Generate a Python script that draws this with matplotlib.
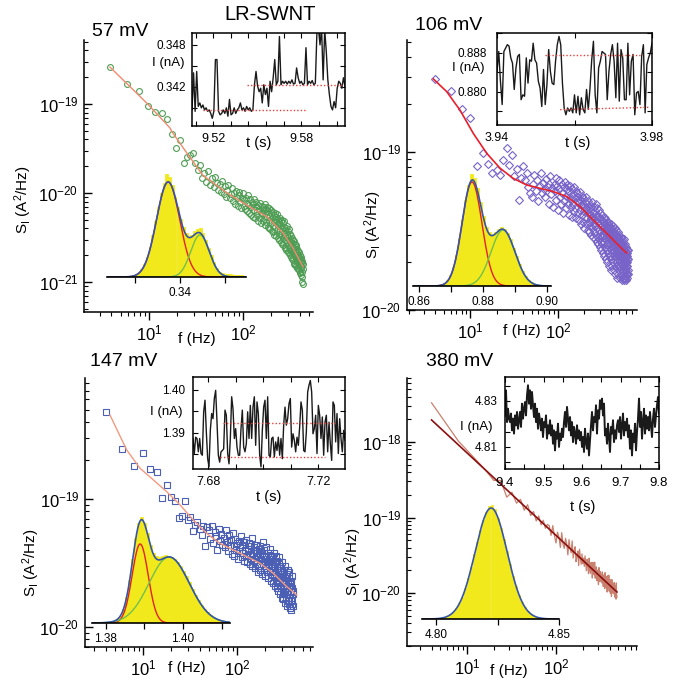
import numpy as np
import matplotlib
matplotlib.use('Agg')
import matplotlib.pyplot as plt
from matplotlib.ticker import LogLocator, NullFormatter

plt.rcParams['font.family'] = ['Liberation Sans', 'DejaVu Sans']
plt.rcParams['mathtext.fontset'] = 'custom'
plt.rcParams['mathtext.rm'] = 'Liberation Sans'
plt.rcParams['mathtext.it'] = 'Liberation Sans:italic'
plt.rcParams['mathtext.bf'] = 'Liberation Sans:bold'
plt.rcParams['axes.linewidth'] = 1.1

# ---------------- noise spectra (S in units given per panel) ----------------
# 57 mV, bins of 1.95 Hz starting at bin 2, S in 1e-21 A^2/Hz
df1 = 1.95
S1 = [263, 168, 141, 95, 82, 79, 68, 46, 32, 39, 22, 25.6, 26.7,
      28.4, 21.5, 18.2, 20.5, 14.6, 16.8, 13.2, 17.5, 12.4, 14.9,
      11.6, 15.2, 13.1, 10.8, 12.5, 10.2, 13.6, 9.8, 11.9, 9.1,
      10.8, 12.2, 8.9, 9.7, 11.5, 8.2, 9.9, 7.6, 10.6, 8.8,
      7.2, 9.6, 10.3, 7.9, 6.8, 8.7, 9.9, 7.1, 8.3, 6.6,
      8.9, 6.3, 7.8, 9.4, 6.0, 7.3, 8.5, 5.7, 7.0, 8.0,
      5.4, 7.6, 6.5, 8.6, 5.2, 6.9, 7.9, 5.6, 6.2, 7.4,
      4.9, 6.6, 7.8, 5.3, 6.0, 4.6, 7.1, 5.8, 6.4, 4.8,
      6.9, 5.1, 7.5, 4.4, 5.9, 6.6, 4.7, 5.4, 7.0, 4.2,
      6.3, 5.0, 4.0, 6.8, 5.5, 3.9, 5.9, 4.6, 6.5, 3.7,
      5.2, 6.1, 4.3, 3.6, 5.7, 4.8, 3.4, 6.0, 4.1, 5.0,
      3.3, 5.4, 4.5, 3.8, 5.8, 3.1, 4.4, 5.1, 3.5, 4.7,
      3.0, 5.3, 3.7, 4.3, 2.8, 4.9, 3.4, 4.0, 5.0, 2.7,
      3.9, 4.6, 3.1, 2.6, 4.2, 3.5, 4.8, 2.5, 3.3, 3.8,
      2.4, 4.0, 3.0, 3.6, 2.3, 4.3, 2.8, 3.4, 2.2, 3.7,
      2.6, 3.2, 2.1, 3.9, 2.5, 3.0, 2.0, 3.5, 2.4, 2.9,
      1.9, 3.3, 2.3, 2.8, 1.8, 3.1, 2.2, 2.6, 1.75, 3.0,
      2.1, 2.5, 1.65, 2.9, 2.0, 2.4, 1.6, 2.7, 1.95, 2.3,
      1.55, 2.6, 1.85, 2.2, 1.5, 2.5, 1.8, 2.1, 1.45, 2.35,
      1.7, 2.0, 1.4, 2.25, 1.65, 1.9, 1.35, 2.15, 1.6, 1.85,
      1.3, 2.0, 1.55, 1.75, 1.25, 1.9, 1.5, 1.7, 1.2, 1.8,
      1.45, 1.0, 1.65, 1.3, 1.15, 1.7, 1.4, 0.95, 1.6]
fit1_f = [3.85, 9.53, 16.7, 18.0, 25.4, 37.5, 67.6, 110, 180, 267, 340, 435]
fit1_S = [260, 102, 54, 47, 28, 15.8, 10, 7.3, 5.4, 3.55, 2.41, 1.48]

# 106 mV, bins of 2 Hz, S in 1e-21
df2 = 2.0
S2 = [290, 245, 186, 165, 81, 99, 84, 74, 77, 72, 89, 106, 83, 96, 70, 78, 50, 68, 81, 66, 74, 60, 55, 52,
      63, 71, 57, 66, 49, 61, 74, 55, 64, 58,
      52, 67, 60, 47, 63, 70, 54, 59, 45, 62,
      57, 68, 50, 61, 43, 58, 66, 52, 47, 63,
      55, 41, 60, 49, 65, 53, 44, 58, 62, 47,
      56, 40, 52, 61, 45, 50, 58, 39, 54, 47,
      60, 42, 51, 44, 57, 38, 49, 55, 41, 52,
      37, 48, 56, 43, 50, 35, 46, 53, 40, 47,
      36, 51, 42, 45, 33, 48, 39, 44, 52, 35,
      43, 38, 47, 32, 41, 49, 36, 44, 31, 40,
      46, 34, 38, 30, 43, 37, 48, 33, 39, 29,
      41, 35, 45, 31, 38, 28, 42, 34, 47, 30,
      37, 27, 40, 33, 44, 29, 36, 26, 39, 32,
      43, 28, 35, 25, 38, 31, 41, 27, 34, 30,
      24, 37, 29, 40, 26, 33, 23, 36, 30, 39,
      27, 32, 22, 35, 28, 38, 25, 31, 21, 34,
      29, 37, 24, 33, 26, 30, 20, 35, 27, 32,
      23, 36, 28, 31, 19, 34, 25, 30, 22, 33,
      26, 29, 18, 32, 24, 35, 21, 28, 31, 23,
      27, 19, 33, 25, 30, 20, 29, 34, 22, 26,
      31, 18, 28, 24, 33, 21, 27, 17, 30, 25,
      22, 29, 32, 19, 26, 23, 28, 16, 30, 24,
      20, 27, 31, 22, 25, 17, 29, 23, 26, 19,
      28, 21, 24, 30, 18, 26, 22, 16, 27, 23,
      19, 25, 29, 20, 24, 17, 27, 22, 15.5, 26,
      21, 18, 28, 23, 25, 16, 24, 20, 27, 19,
      22, 26, 17, 24, 21, 15.5, 25, 19, 23, 28,
      18, 22, 20, 26, 16, 24, 21, 17, 23, 19,
      25, 20, 15.5, 22, 18, 24, 21, 17, 23, 19,
      16, 22, 20, 18, 24, 17, 21]
fit2_f = [3.83, 5.43, 7.69, 10.9, 15.5, 21.9, 31.0, 44.1, 62.4, 88.5, 126, 178, 251, 357, 507, 603]
fit2_S = [290, 241, 184, 131, 98, 79, 68, 61.8, 58.9, 56.1, 52.2, 45.1, 37.2, 30.6, 25.1, 22.9]

# 147 mV, bins of 2 Hz, S in 1e-21
df3 = 2.0
S3 = [481, 245, 182, 230, 171, 162, 101, 128, 104, 97, 71, 73, 97, 68, 72, 56, 63, 66, 58, 52, 61, 43, 60, 57,
      49, 62, 45, 55, 51, 40, 58, 47, 53, 44,
      50, 42, 57, 46, 39, 52, 44, 48, 37, 54,
      43, 36, 49, 40, 45, 34, 47, 39, 42, 51,
      35, 44, 38, 33, 46, 40, 36, 48, 32, 41,
      39, 45, 31, 37, 43, 34, 50, 30, 38, 42,
      33, 40, 29, 36, 44, 31, 38, 27, 35, 41,
      30, 37, 43, 28, 34, 39, 26, 33, 46, 31,
      36, 28, 40, 32, 25, 35, 42, 29, 33, 27,
      38, 31, 24, 34, 30, 41, 27, 33, 23, 36,
      29, 35, 26, 31, 22, 34, 28, 38, 25, 30,
      21, 32, 27, 24, 36, 23, 29, 20, 33, 26,
      22, 28, 19, 31, 25, 35, 21, 27, 18, 30,
      24, 20, 29, 17, 26, 22, 32, 19, 25, 16.5,
      23, 28, 18, 21, 27, 15.5, 24, 19, 30, 20,
      17, 25, 22, 14.5, 26, 18, 21, 28, 16, 23,
      19, 15, 24, 20, 17, 27, 14, 22, 18, 21,
      16, 23, 19, 13.5, 21, 17, 25, 15, 20, 18, 14.5, 19]
fit3_f = [4.46, 6.71, 9.29, 12.9, 17.9, 24.8, 34.3, 47.5, 65.9, 91.4, 127, 176, 243, 338, 432]
fit3_S = [453, 242, 174, 141, 114, 90, 68.5, 54, 45, 40, 35.5, 31.5, 26.3, 20.7, 17.8]

# 380 mV, bins of 4 Hz starting at bin 1, S in 1e-20
df4 = 4.0
S4 = [331, 103, 62, 43, 31, 31, 18.6, 21.6, 15.5, 17.4,
      12.5, 14.8, 10.6, 12.0, 9.0, 10.5, 8.0, 9.2, 7.2, 8.1,
      7.8, 5.8, 7.8, 5.8, 4.6, 6.4, 5.5, 4.0, 6.3, 4.4,
      3.9, 5.3, 4.5, 3.2, 5.1, 3.9, 3.4, 4.9, 2.9, 3.7,
      4.1, 2.6, 3.0, 3.6, 2.3, 3.8, 2.9, 2.4, 3.3, 2.45,
      2.9, 2.25, 3.1, 2.4, 1.97, 2.8, 2.4, 1.8, 2.9, 2.05,
      1.83, 2.54, 2.2, 1.58, 2.55, 1.97, 1.74, 2.56, 1.57, 2.03,
      2.22, 1.45, 1.69, 2.02, 1.29, 2.17, 1.69, 1.42, 1.92, 1.46,
      1.76, 1.36, 1.9, 1.46, 1.22, 1.73, 1.51, 1.14, 1.86, 1.32,
      1.18, 1.65, 1.45, 1.03, 1.69, 1.3, 1.16, 1.72, 1.06, 1.37,
      1.51, 0.99, 1.17, 1.39, 0.9, 1.51, 1.19, 1.0, 1.36, 1.04,
      1.25, 0.97, 1.37, 1.05, 0.88, 1.25, 1.1, 0.83, 1.36, 0.96, 0.88]
fit4_amp, fit4_alpha = 8.93e-18, 1.094
fit4_f = [4.0, 484.0]

# ---------------- current histograms ----------------
hist1 = [0.5, 0.5, 0.5, 0.6, 0.6, 0.7, 0.8, 1.0, 1.2, 1.6, 2.8, 4.5, 8, 13, 20, 30, 42, 56, 70, 84,
         94, 103, 100, 92, 80, 70, 58, 50, 44, 41, 42, 46, 48, 49, 44, 37, 29, 22, 15, 9,
         5.5, 4, 3.5, 3, 3, 2.5, 2.5, 2, 2, 1.5]
gauss1 = [(0.33867, 0.00128, 95), (0.3422, 0.00103, 42)]
hist2 = [0, 0, 0, 0, 0, 0.3, 0.3, 0.4, 0.8, 1.5, 3, 6, 11, 19, 31, 48, 67, 86, 101, 112,
         108, 98, 84, 70, 59, 54, 52, 54, 57, 59, 57, 53, 47, 38, 30, 22, 15, 10, 6, 3.5,
         2, 1, 0.5, 0.3, 0, 0]
gauss2 = [(0.87657, 0.0031, 104), (0.88627, 0.00376, 56)]
hist3 = [0.3, 0.3, 0.4, 0.5, 0.6, 0.8, 1.2, 2, 4, 7.5, 14, 26, 43, 64, 85, 100, 106, 100, 90, 78,
         70, 67, 66, 67, 68, 67, 66, 64, 61, 57, 52, 47, 41, 34, 28, 23, 18, 14, 11, 8,
         5.5, 4, 2.7, 1.8, 1.2, 0.8]
gauss3 = [(1.3889, 0.00208, 79), (1.39642, 0.0052, 66)]
hist4 = [0.1, 0.1, 0.1, 0.2, 0.3, 0.5, 1.0, 1.7, 2.9, 4.6, 7.2, 11, 16, 22.5, 31, 41, 52, 65, 77, 89,
         99, 107, 113, 114, 110, 101, 91, 80, 68, 55, 43, 33, 24, 17, 12, 8, 5, 3, 2, 1.2,
         0.7, 0.4, 0.2, 0.2, 0.1, 0.1]
gauss4 = [(4.8224, 0.0065, 111)]

# ---------------- current time traces (nA) ----------------
trace1 = [0.3387, 0.3440, 0.3385, 0.3442, 0.3392, 0.3397, 0.3390, 0.3394, 0.3387, 0.3390,
          0.3385, 0.3387, 0.3382, 0.3375, 0.3385, 0.3459, 0.3459, 0.3385, 0.3380, 0.3382,
          0.3387, 0.3382, 0.3390, 0.3378, 0.3402, 0.3380, 0.3382, 0.3390, 0.3382, 0.3387,
          0.3390, 0.3397, 0.3387, 0.3390, 0.3385, 0.3392, 0.3387, 0.3390, 0.3385, 0.3387,
          0.3423, 0.3442, 0.3421, 0.3413, 0.3418, 0.3397, 0.3423, 0.3409, 0.3418, 0.3392,
          0.3428, 0.3413, 0.3433, 0.3459, 0.3423, 0.3428, 0.3492, 0.3423, 0.3428, 0.3425,
          0.3428, 0.3424, 0.3428, 0.3425, 0.3430, 0.3424, 0.3425, 0.3447, 0.3433, 0.3425,
          0.3428, 0.3423, 0.3425, 0.3476, 0.3423, 0.3428, 0.3425, 0.3429, 0.3423, 0.3425,
          0.3497, 0.3504, 0.3480, 0.3504, 0.3430, 0.3502, 0.3471, 0.3430, 0.3409, 0.3392,
          0.3387, 0.3399, 0.3390, 0.3418, 0.3428, 0.3425, 0.3418, 0.3433, 0.3421]
trace2 = [0.8842, 0.8883, 0.8822, 0.8774, 0.8883, 0.8890, 0.8897, 0.8894, 0.8870, 0.8859,
          0.8805, 0.8849, 0.8873, 0.8877, 0.8784, 0.8794, 0.8791, 0.8870, 0.8818, 0.8866,
          0.8863, 0.8900, 0.8866, 0.8859, 0.8822, 0.8808, 0.8770, 0.8846, 0.8774, 0.8815,
          0.8887, 0.8842, 0.8818, 0.8815, 0.8863, 0.8897, 0.8914, 0.8897, 0.8818, 0.8767,
          0.8753, 0.8767, 0.8760, 0.8767, 0.8757, 0.8794, 0.8757, 0.8791, 0.8753, 0.8788,
          0.8764, 0.8757, 0.8805, 0.8764, 0.8808, 0.8866, 0.8904, 0.8794, 0.8757, 0.8849,
          0.8863, 0.8883, 0.8880, 0.8877, 0.8784, 0.8842, 0.8877, 0.8897, 0.8863, 0.8788,
          0.8900, 0.8781, 0.8887, 0.8870, 0.8784, 0.8784, 0.8900, 0.8794, 0.8863, 0.8877,
          0.8753, 0.8798, 0.8801, 0.8774, 0.8873, 0.8897, 0.8757, 0.8856, 0.8870, 0.8880,
          0.8900]
trace3 = [1.3887, 1.3852, 1.3890, 1.3887, 1.3856, 1.3887, 1.3852, 1.3848, 1.3949, 1.3976,
          1.3902, 1.3840, 1.3821, 1.3906, 1.3945, 1.3933, 1.3980, 1.3999, 1.3925, 1.3848,
          1.3832, 1.3856, 1.3859, 1.3863, 1.3953, 1.3941, 1.3852, 1.3828, 1.3887, 1.3984,
          1.3956, 1.3887, 1.3910, 1.3867, 1.3848, 1.3848, 1.3910, 1.3953, 1.3867, 1.3856,
          1.3875, 1.3949, 1.3887, 1.3964, 1.3887, 1.3960, 1.3984, 1.3871, 1.3972, 1.3945,
          1.3848, 1.3821, 1.3906, 1.3960, 1.3976, 1.3887, 1.3984, 1.3848, 1.3844, 1.3887,
          1.3890, 1.3844, 1.3879, 1.3859, 1.3890, 1.3848, 1.3887, 1.3840, 1.3918, 1.3960,
          1.3918, 1.3933, 1.3968, 1.3980, 1.3867, 1.3898, 1.3883, 1.3856, 1.3890, 1.3871,
          1.3914, 1.3972, 1.3953, 1.3859, 1.3856, 1.3902, 1.3995, 1.4011, 1.4022, 1.3995,
          1.3898, 1.3910, 1.3941, 1.3852, 1.3964, 1.3941, 1.3887, 1.3937, 1.3848, 1.3925,
          1.3941, 1.3856, 1.3925, 1.3875, 1.3836, 1.3972, 1.3964, 1.3879, 1.3945, 1.3852,
          1.3933, 1.3887, 1.3856, 1.3906, 1.3883]
trace4 = [4.8238, 4.8346, 4.8208, 4.8266, 4.8223,
          4.8208, 4.8245, 4.8172, 4.8223, 4.8158, 4.8237, 4.8194, 4.8252, 4.8179, 4.8216,
          4.8252, 4.8187, 4.8288, 4.8223, 4.8266, 4.8295, 4.8237,
          4.8324, 4.8368, 4.8288, 4.8346, 4.8266, 4.8339, 4.8281,
          4.8230, 4.8288, 4.8208, 4.8266, 4.8179, 4.8245, 4.8216,
          4.8172, 4.8223, 4.8143, 4.8208, 4.8187, 4.8237, 4.8136, 4.8194, 4.8158, 4.8216,
          4.8150, 4.8194, 4.8114, 4.8172, 4.8085, 4.8165, 4.8136, 4.8201, 4.8100, 4.8158, 4.8129, 4.8179, 4.8143,
          4.8208, 4.8252, 4.8187, 4.8274, 4.8223, 4.8172, 4.8230,
          4.8150, 4.8208, 4.8121, 4.8187, 4.8158, 4.8114, 4.8194, 4.8136, 4.8172, 4.8129,
          4.8165, 4.8100, 4.8143, 4.8078, 4.8179, 4.8121, 4.8092, 4.8158, 4.8063, 4.8129,
          4.8194, 4.8252, 4.8172, 4.8230, 4.8208, 4.8281, 4.8158, 4.8259, 4.8223, 4.8303,
          4.8266, 4.8310, 4.8237, 4.8288, 4.8150,
          4.8179, 4.8114, 4.8201, 4.8143, 4.8078, 4.8187, 4.8158, 4.8216, 4.8121, 4.8172, 4.8136, 4.8194,
          4.8216, 4.8165, 4.8230, 4.8136, 4.8194, 4.8245, 4.8150, 4.8208, 4.8172, 4.8223,
          4.8143, 4.8194, 4.8092, 4.8172, 4.8063, 4.8158, 4.8121, 4.8201, 4.8085, 4.8165,
          4.8223, 4.8310, 4.8187, 4.8252, 4.8136, 4.8208, 4.8266, 4.8158, 4.8237, 4.8179,
          4.8230, 4.8172, 4.8252, 4.8194, 4.8143, 4.8223, 4.8266, 4.8187, 4.8237, 4.8281, 4.8317, 4.8245]

YELLOW = '#f2e91c'
BLUE = '#3655a6'
COMP = ['#e5201f', '#72bf4e']
PX = 681.0

fig = plt.figure(figsize=(6.81, 6.81), dpi=100)


def rect(x0, y0, x1, y1):
    return [x0 / PX, 1 - y1 / PX, (x1 - x0) / PX, (y1 - y0) / PX]


def ftxt(x, y, s, **kw):
    fig.text(x / PX, 1 - y / PX, s, **kw)


def spectrum_axes(box, xlim, ylim, yticks):
    ax = fig.add_axes(rect(*box))
    ax.set_xscale('log')
    ax.set_yscale('log')
    ax.patch.set_alpha(0)
    ax.spines[['top', 'right']].set_visible(False)
    for a in (ax.xaxis, ax.yaxis):
        a.set_minor_locator(LogLocator(10.0, subs=np.arange(2, 10), numticks=12))
        a.set_minor_formatter(NullFormatter())
    ax.set_xticks([10, 100])
    ax.set_yticks(yticks)
    ax.set_xlim(*xlim)
    ax.set_ylim(*ylim)
    ax.tick_params(axis='x', which='both', direction='out', labelsize=12, pad=2)
    ax.tick_params(axis='y', which='both', direction='in', labelsize=12, pad=4)
    ax.tick_params(which='major', length=6, width=1.0)
    ax.tick_params(which='minor', length=3, width=0.8)
    return ax


def hist_axes(box, lo, hi, counts, comps, ticks, labels, ymax):
    ax = fig.add_axes(rect(*box))
    ax.patch.set_alpha(0)
    edges = np.linspace(lo, hi, len(counts) + 1)
    ax.bar(edges[:-1], counts, width=edges[1] - edges[0], align='edge',
           color=YELLOW, edgecolor=YELLOW, linewidth=0.6)
    xs = np.linspace(lo, hi, 400)
    curves = [a * np.exp(-0.5 * ((xs - m) / s) ** 2) for m, s, a in comps]
    if len(curves) > 1:
        for c, col in zip(curves, COMP):
            ax.plot(xs, c, color=col, lw=1.0)
    ax.plot(xs, np.sum(curves, axis=0), color=BLUE, lw=1.2)
    ax.set_xlim(lo, hi)
    ax.set_ylim(0, ymax)
    ax.spines[['left', 'top', 'right']].set_visible(False)
    ax.spines['bottom'].set_linewidth(1.2)
    ax.set_yticks([])
    ax.set_xticks(ticks, labels)
    ax.tick_params(axis='x', direction='out', length=4, width=0.9, labelsize=8.5, pad=3)
    return ax


def trace_axes(box, current, xlim, ylim, yticks, ylabels, xticks, xlabels, dotted,
               ypad, xpad, xsize=9, lw=1.0):
    ax = fig.add_axes(rect(*box))
    t = np.linspace(xlim[0], xlim[1], len(current))
    ax.plot(t, current, color='#1a1a1a', lw=lw)
    for ta, tb, ia, ib in dotted:
        ax.plot([ta, tb], [ia, ib], color='#e8403c', lw=1.0, ls=(0, (1, 1.5)))
    ax.set_xlim(*xlim)
    ax.set_ylim(*ylim)
    ax.set_yticks(yticks, ylabels)
    ax.set_xticks(xticks, xlabels)
    ax.tick_params(direction='in', top=True, right=True, length=3.5, width=0.8)
    ax.tick_params(axis='y', labelsize=8.5, pad=ypad)
    ax.tick_params(axis='x', labelsize=xsize, pad=xpad)
    return ax


ylab = r'S$_\mathregular{I}$ (A$^\mathregular{2}$/Hz)'

# ---- panel 1: 57 mV ----
ax1 = spectrum_axes((84, 40, 313, 312), (2.04, 556), (10 ** -21.337, 10 ** -18.281),
                    [1e-21, 1e-20, 1e-19])
ax1.plot(df1 * np.arange(2, 2 + len(S1)), np.array(S1) * 1e-21, 'o', mfc='none',
         mec='#4f9d55', ms=4.2, mew=0.8)
ax1.plot(fit1_f, np.array(fit1_S) * 1e-21, color='#f28a6e', lw=1.0)
hist_axes((107, 165, 246, 277), 0.3319, 0.3473, hist1, gauss1,
          [0.335, 0.34, 0.345], ['', '0.34', ''], 112)
trace_axes((192, 33, 345, 126), trace1, (9.508, 9.5947), (0.3364, 0.3497),
           [0.339, 0.342, 0.345, 0.348], ['', '0.342', '', '0.348'],
           np.arange(9.51, 9.595, 0.01), ['', '9.52', '', '', '', '', '9.58', '', ''],
           [(9.5144, 9.5730, 0.33868, 0.33868), (9.539, 9.5957, 0.34221, 0.34221)],
           ypad=4.5, xpad=5)

# ---- panel 2: 106 mV ----
ax2 = spectrum_axes((407, 40, 637, 310), (1.92, 791), (0.999e-20, 10 ** -18.291),
                    [1e-20, 1e-19])
ax2.plot(df2 * np.arange(2, 2 + len(S2)), np.array(S2) * 1e-21, 'D', mfc='none',
         mec='#7864c8', ms=3.6, mew=0.8)
ax2.plot(fit2_f, np.array(fit2_S) * 1e-21, color='#e8202a', lw=1.2)
hist_axes((413, 170, 551, 286), 0.8581, 0.9013, hist2, gauss2,
          [0.86, 0.87, 0.88, 0.89, 0.90], ['0.86', '', '0.88', '', '0.90'], 116)
trace_axes((497, 33, 652, 125), trace2, (3.94, 3.98), (0.8732, 0.8921),
           [0.876, 0.880, 0.884, 0.888, 0.892], ['', '0.880', '', '0.888', ''],
           [3.94, 3.96, 3.98], ['3.94', '', '3.98'],
           [(3.9525, 3.977, 0.88765, 0.88765), (3.9563, 3.9791, 0.87635, 0.87683)],
           ypad=7, xpad=5)

# ---- panel 3: 147 mV ----
ax3 = spectrum_axes((85, 378, 313, 647), (2.42, 644), (10 ** -20.156, 10 ** -18.055),
                    [1e-20, 1e-19])
ax3.plot(df3 * np.arange(2, 2 + len(S3)), np.array(S3) * 1e-21, 's', mfc='none',
         mec='#4b5fb4', ms=3.8, mew=0.8)
ax3.plot(fit3_f, np.array(fit3_S) * 1e-21, color='#f49a80', lw=1.0)
hist_axes((92, 510, 230, 623), 1.3764, 1.4122, hist3, gauss3,
          [1.38, 1.39, 1.40, 1.41], ['1.38', '', '1.40', ''], 113)
trace_axes((193, 377, 345, 469), trace3, (7.6745, 7.7298), (1.3816, 1.403),
           [1.385, 1.39, 1.395, 1.40], ['', '1.39', '', '1.40'],
           [7.68, 7.69, 7.70, 7.71, 7.72], ['7.68', '', '', '', '7.72'],
           [(7.6854, 7.7262, 1.39237, 1.39237), (7.6843, 7.7225, 1.38431, 1.38431)],
           ypad=5.5, xpad=5)

# ---- panel 4: 380 mV ----
ax4 = spectrum_axes((407, 378, 637, 646), (2.12, 813), (10 ** -20.702, 10 ** -17.152),
                    [1e-20, 1e-19, 1e-18])
ax4.plot(df4 * np.arange(1, 1 + len(S4)), np.array(S4) * 1e-20, color='#c9806e', lw=0.9)
ax4.plot(fit4_f, fit4_amp * np.array(fit4_f) ** -fit4_alpha, color='#8b1010', lw=1.2)
hist_axes((422, 503, 559, 619), 4.7943, 4.8500, hist4, gauss4,
          [4.80, 4.825, 4.85], ['4.80', '', '4.85'], 116)
t4 = trace_axes((505, 377, 659, 469), trace4, (9.4, 9.8), (4.8004, 4.8404),
                [4.81, 4.83], ['4.81', '4.83'],
                np.arange(9.4, 9.801, 0.05), ['9.4', '', '9.5', '', '9.6', '', '9.7', '', '9.8'],
                [], ypad=5, xpad=5.5, xsize=9.5, lw=1.4)
t4.set_yticks([4.8033, 4.8167, 4.8233, 4.8367], minor=True)
t4.tick_params(which='minor', direction='in', length=3.5, width=0.8, left=True, right=True)

# ---- texts ----
ftxt(270, 15, 'LR-SWNT', ha='center', va='center', fontsize=14.5)
ftxt(92, 32, '57 mV', ha='left', va='center', fontsize=14)
ftxt(415, 25, '106 mV', ha='left', va='center', fontsize=14)
ftxt(90, 362, '147 mV', ha='left', va='center', fontsize=14)
ftxt(426, 362, '380 mV', ha='left', va='center', fontsize=14)

for x, y in [(23, 200), (373, 225), (31, 563), (353, 562)]:
    ftxt(x, y, ylab, rotation=90, ha='center', va='center', fontsize=11)
for x, y in [(197, 339), (522, 331), (187, 668), (509, 671)]:
    ftxt(x, y, 'f (Hz)', ha='center', va='center', fontsize=11)
for x, y in [(184, 63), (485, 68), (183, 412), (493, 427)]:
    ftxt(x, y, 'I (nA)', ha='right', va='center', fontsize=9.5)
for x, y in [(259, 143), (578, 143), (269, 497), (583, 507)]:
    ftxt(x, y, 't (s)', ha='center', va='center', fontsize=10.5)

fig.savefig('out.png', dpi=100)
